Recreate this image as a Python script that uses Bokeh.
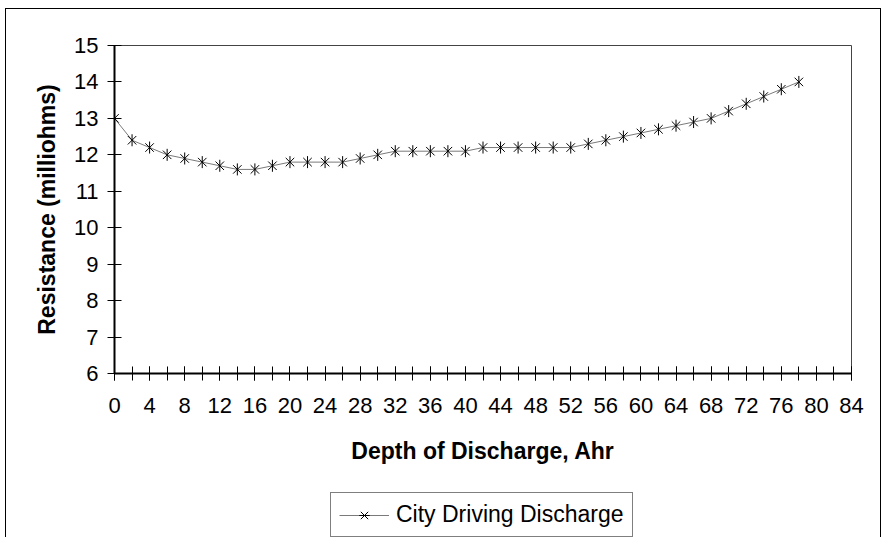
from bokeh.plotting import figure
from bokeh.models import FixedTicker, Legend, LegendItem, Range1d
from bokeh.layouts import column
from bokeh.embed import file_html
from bokeh.resources import INLINE
import math

# ---- data ----
depth_ahr = [0, 2, 4, 6, 8, 10, 12, 14, 16, 18, 20, 22, 24, 26, 28, 30, 32, 34, 36, 38,
             40, 42, 44, 46, 48, 50, 52, 54, 56, 58, 60, 62, 64, 66, 68, 70, 72, 74, 76, 78]
resistance_mohm = [13.0, 12.4, 12.2, 12.0, 11.9, 11.8, 11.7, 11.6, 11.6, 11.7,
                   11.8, 11.8, 11.8, 11.8, 11.9, 12.0, 12.1, 12.1, 12.1, 12.1,
                   12.1, 12.2, 12.2, 12.2, 12.2, 12.2, 12.2, 12.3, 12.4, 12.5,
                   12.6, 12.7, 12.8, 12.9, 13.0, 13.2, 13.4, 13.6, 13.8, 14.0]
x_major_ticks = [0, 4, 8, 12, 16, 20, 24, 28, 32, 36, 40, 44, 48, 52, 56, 60, 64, 68, 72, 76, 80, 84]
x_minor_ticks = [0, 2, 4, 6, 8, 10, 12, 14, 16, 18, 20, 22, 24, 26, 28, 30, 32, 34, 36, 38, 40, 42,
                 44, 46, 48, 50, 52, 54, 56, 58, 60, 62, 64, 66, 68, 70, 72, 74, 76, 78, 80, 82, 84]
y_ticks = [6, 7, 8, 9, 10, 11, 12, 13, 14, 15]
series_name = "City Driving Discharge"
x_title = "Depth of Discharge, Ahr"
y_title = "Resistance (milliohms)"

FONT = "Liberation Sans"
LINE_COLOR = "#7a7a7a"
X_SIZE = 12
BAR_SIZE = 12

# ---------------- main chart ----------------
main = figure(frame_width=737, frame_height=328, output_backend="svg", toolbar_location=None,
              x_range=Range1d(0, 84), y_range=Range1d(6, 15),
              min_border_left=108, min_border_right=29, min_border_top=36, min_border_bottom=112,
              background_fill_color="white", border_fill_color="white")

main.xgrid.visible = False
main.ygrid.visible = False
main.outline_line_color = "#444444"
main.outline_line_width = 1

xa = main.xaxis[0]
xa.ticker = FixedTicker(ticks=x_major_ticks, minor_ticks=x_minor_ticks)
xa.major_tick_in = 7
xa.major_tick_out = 7
xa.minor_tick_in = 7
xa.minor_tick_out = 7
xa.axis_line_width = 2
xa.axis_line_color = "black"
xa.major_tick_line_color = "black"
xa.minor_tick_line_color = "black"
xa.major_label_text_font = FONT
xa.major_label_text_font_size = "22px"
xa.major_label_text_color = "black"
xa.major_label_standoff = 17
xa.axis_label = x_title
xa.axis_label_text_font = FONT
xa.axis_label_text_font_style = "bold"
xa.axis_label_text_font_size = "23px"
xa.axis_label_text_color = "black"
xa.axis_label_standoff = 22

ya = main.yaxis[0]
ya.ticker = FixedTicker(ticks=y_ticks, minor_ticks=[])
ya.major_tick_in = 7
ya.major_tick_out = 7
ya.minor_tick_in = 0
ya.minor_tick_out = 0
ya.axis_line_width = 2
ya.axis_line_color = "black"
ya.major_tick_line_color = "black"
ya.major_label_text_font = FONT
ya.major_label_text_font_size = "22px"
ya.major_label_text_color = "black"
ya.major_label_standoff = 9
ya.axis_label = y_title
ya.axis_label_text_font = FONT
ya.axis_label_text_font_style = "bold"
ya.axis_label_text_font_size = "23px"
ya.axis_label_text_color = "black"
ya.axis_label_standoff = 11

main.line(depth_ahr, resistance_mohm, line_color=LINE_COLOR, line_width=1)
main.scatter(depth_ahr, resistance_mohm, marker="x", size=X_SIZE, line_color="black", line_width=1)
main.scatter(depth_ahr, resistance_mohm, marker="dash", angle=math.pi / 2, size=BAR_SIZE,
             line_color="black", line_width=1)

# ---------------- legend strip below the chart ----------------
leg = figure(frame_width=874, frame_height=52, output_backend="svg", toolbar_location=None,
             x_range=Range1d(0, 1), y_range=Range1d(0, 1),
             x_axis_type=None, y_axis_type=None,
             min_border_left=0, min_border_right=0, min_border_top=0, min_border_bottom=0,
             background_fill_color="white", border_fill_color="white")
leg.xgrid.visible = False
leg.ygrid.visible = False
leg.outline_line_color = None
# same series, outside this strip's ranges: only its legend sample shows
ln = leg.line(depth_ahr, resistance_mohm, line_color=LINE_COLOR, line_width=1)
sx = leg.scatter(depth_ahr, resistance_mohm, marker="x", size=X_SIZE, line_color="black", line_width=1)
sd = leg.scatter(depth_ahr, resistance_mohm, marker="dash", angle=math.pi / 2, size=BAR_SIZE,
                 line_color="black", line_width=1)

legend = Legend(items=[LegendItem(label=series_name, renderers=[ln, sx, sd])],
                location=(324, 0), padding=8, margin=0, spacing=0,
                glyph_width=50, glyph_height=26, label_standoff=7,
                label_text_font=FONT, label_text_font_size="23px", label_text_color="black",
                border_line_color="black", border_line_width=1,
                background_fill_color="white", background_fill_alpha=1)
leg.add_layout(legend)

p = column(main, leg, spacing=0,
           styles={"margin-left": "5px", "margin-top": "8px",
                   "border-left": "1px solid black", "border-top": "1px solid black",
                   "border-right": "1px solid black"})

open("out.html", "w").write(file_html(p, INLINE))
